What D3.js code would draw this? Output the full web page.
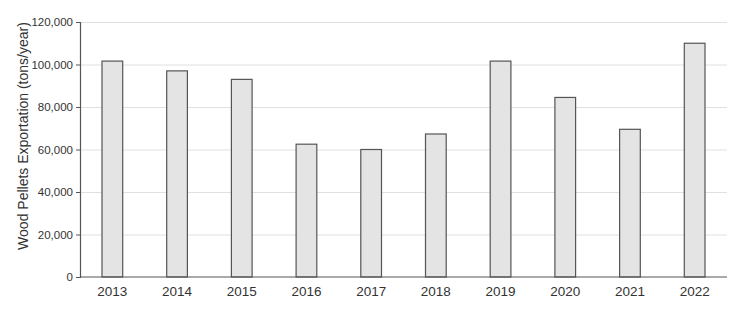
<!DOCTYPE html>
<html>
<head>
<meta charset="utf-8">
<script src="https://cdn.jsdelivr.net/npm/d3@7"></script>
<style>
  body { margin: 0; background: #fff; }
  text { font-family: "Liberation Sans", Arial, sans-serif; fill: #333; }
</style>
</head>
<body>
<div id="chart"></div>
<script>
var years = ["2013", "2014", "2015", "2016", "2017", "2018", "2019", "2020", "2021", "2022"];
var exports = [101600, 97000, 93000, 62500, 60000, 67300, 101600, 84500, 69500, 110000];
var yTicks = [0, 20000, 40000, 60000, 80000, 100000, 120000];

var width = 744, height = 320;
var margin = { top: 22, right: 17, bottom: 43, left: 80 };

var svg = d3.select("#chart").append("svg")
    .attr("width", width)
    .attr("height", height);

var x = d3.scaleBand()
    .domain(years)
    .range([margin.left, width - margin.right])
    .paddingInner(0.68)
    .paddingOuter(0.34);

var y = d3.scaleLinear()
    .domain([0, 120000])
    .range([height - margin.bottom, margin.top]);

// gridlines
svg.append("g")
    .selectAll("line")
    .data(yTicks.slice(1))
    .enter()
    .append("line")
    .attr("x1", margin.left)
    .attr("x2", width - margin.right)
    .attr("y1", function(d) { return y(d) + 0.5; })
    .attr("y2", function(d) { return y(d) + 0.5; })
    .attr("stroke", "#e0e0e0")
    .attr("stroke-width", 1);

// bars
svg.append("g")
    .selectAll("rect")
    .data(exports)
    .enter()
    .append("rect")
    .attr("x", function(d, i) { return x(years[i]); })
    .attr("y", function(d) { return y(d); })
    .attr("width", x.bandwidth())
    .attr("height", function(d) { return y(0) - y(d); })
    .attr("fill", "#e4e4e4")
    .attr("stroke", "#555")
    .attr("stroke-width", 1.2);

// y axis
var yAxis = svg.append("g")
    .attr("transform", "translate(" + margin.left + ",0)")
    .call(d3.axisLeft(y).tickValues(yTicks).tickSize(4).tickPadding(3)
        .tickFormat(d3.format(",")));
yAxis.select(".domain").attr("stroke", "#555").attr("stroke-width", 1.2);
yAxis.selectAll(".tick line").attr("stroke", "#555");
yAxis.selectAll("text").style("font-size", "11.5px").attr("fill", "#333");

// x axis
var xAxis = svg.append("g")
    .attr("transform", "translate(0," + y(0) + ")")
    .call(d3.axisBottom(x).tickSize(0).tickPadding(9));
xAxis.select(".domain").attr("stroke", "#555").attr("stroke-width", 1.2)
    .attr("d", "M" + margin.left + ",0H" + (width - margin.right));
xAxis.selectAll("text").style("font-size", "13.5px").attr("fill", "#222");

// y label
svg.append("text")
    .attr("transform", "translate(23,136) rotate(-90)")
    .attr("text-anchor", "middle")
    .attr("dy", "0.35em")
    .style("font-size", "14px")
    .attr("fill", "#222")
    .text("Wood Pellets Exportation (tons/year)");
</script>
</body>
</html>
